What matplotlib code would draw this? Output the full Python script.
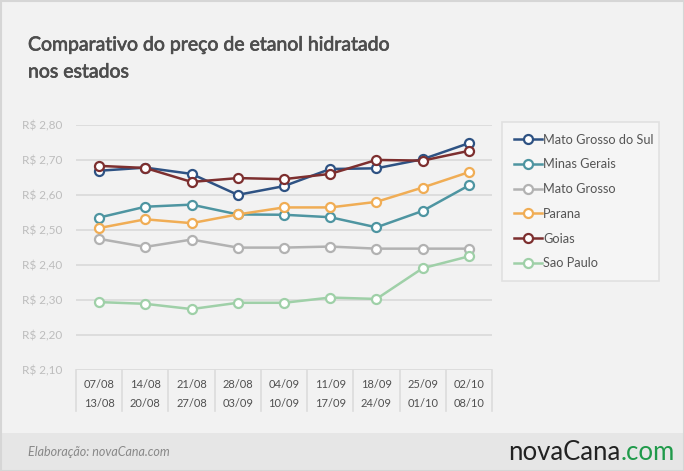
import numpy as np
import matplotlib.pyplot as plt
import matplotlib.patheffects as pe
from matplotlib.patches import Rectangle

weeks_start = ['07/08', '14/08', '21/08', '28/08', '04/09', '11/09', '18/09', '25/09', '02/10']
weeks_end = ['13/08', '20/08', '27/08', '03/09', '10/09', '17/09', '24/09', '01/10', '08/10']

mato_grosso_do_sul = [2.669, 2.678, 2.660, 2.600, 2.625, 2.674, 2.676, 2.702, 2.748]
minas_gerais = [2.535, 2.566, 2.572, 2.544, 2.543, 2.536, 2.507, 2.554, 2.627]
mato_grosso = [2.474, 2.451, 2.472, 2.449, 2.449, 2.452, 2.446, 2.446, 2.446]
parana = [2.505, 2.530, 2.519, 2.544, 2.564, 2.564, 2.580, 2.621, 2.665]
goias = [2.683, 2.677, 2.637, 2.648, 2.645, 2.660, 2.700, 2.698, 2.726]
sao_paulo = [2.293, 2.288, 2.273, 2.291, 2.291, 2.306, 2.302, 2.390, 2.424]

series = [
    ('Mato Grosso do Sul', mato_grosso_do_sul, '#2e5283'),
    ('Minas Gerais', minas_gerais, '#4e95a1'),
    ('Mato Grosso', mato_grosso, '#b2b2b2'),
    ('Parana', parana, '#f0ad55'),
    ('Goias', goias, '#7d2f2f'),
    ('Sao Paulo', sao_paulo, '#9fd0a8'),
]

yticks = [2.10, 2.20, 2.30, 2.40, 2.50, 2.60, 2.70, 2.80]

W, H = 684, 471
fig = plt.figure(figsize=(W / 100, H / 100), dpi=100)
fig.patch.set_facecolor('#f2f2f2')
plt.rcParams['font.family'] = ['Lato', 'DejaVu Sans']

# footer band and outer border
fig.patches.append(Rectangle((0, 0), 1, (H - 433) / H, transform=fig.transFigure,
                             facecolor='#e6e6e6', edgecolor='none', zorder=0))
fig.patches.append(Rectangle((0.5 / W, 0.5 / H), 1 - 1 / W, 1 - 1 / H, transform=fig.transFigure,
                             facecolor='none', edgecolor='#d6d6d6', lw=1.5, zorder=5))

x0, x1, ytop, ybot = 76, 492, 125, 369.5
ax = fig.add_axes([x0 / W, (H - ybot) / H, (x1 - x0) / W, (ybot - ytop) / H])
ax.set_facecolor('none')
x = np.arange(len(weeks_start))
ax.set_xlim(-0.5, len(x) - 0.5)
ax.set_ylim(2.10, 2.80)

for yv in yticks:
    ax.axhline(yv, color='#d9d9d9', lw=1.2, zorder=1)

for s in ax.spines.values():
    s.set_visible(False)
ax.set_yticks(yticks)
ax.set_yticklabels(['R$ ' + f'{v:.2f}'.replace('.', ',') for v in yticks],
                   color='#bdbdbd', fontsize=8.5)
ax.tick_params(axis='y', length=0, pad=10)
ax.set_xticks([])

# table-like x axis
trans = ax.get_xaxis_transform()
for b in np.arange(len(x) + 1) - 0.5:
    ax.plot([b, b], [0, -41 / (ybot - ytop)], transform=trans, color='#dcdcdc',
            lw=1.2, clip_on=False)
for i in x:
    ax.text(i, -15 / (ybot - ytop), weeks_start[i], transform=trans, ha='center',
            va='center', fontsize=8, color='#505050')
    ax.text(i, -34 / (ybot - ytop), weeks_end[i], transform=trans, ha='center',
            va='center', fontsize=8, color='#505050')

handles = []
for name, vals, col in series:
    ln, = ax.plot(x, vals, color=col, lw=1.8, marker='o', ms=6.5, mfc='white',
                  mec=col, mew=1.6, clip_on=False, zorder=3, label=name)
    handles.append(ln)

leg = ax.legend(handles=handles, loc='upper left',
                bbox_to_anchor=(502 / W, 1 - 284 / H, 157 / W, 162 / H),
                bbox_transform=fig.transFigure, mode='expand', frameon=True,
                fontsize=9.2, handlelength=2.2, handletextpad=0.1,
                labelspacing=1.0, borderpad=0.9, borderaxespad=0, fancybox=False)
leg.get_frame().set_facecolor('#f7f7f7')
leg.get_frame().set_edgecolor('#dcdcdc')
leg.get_frame().set_linewidth(1.2)
for t in leg.get_texts():
    t.set_color('#555555')

thick = [pe.withStroke(linewidth=0.5, foreground='#4d4d4d')]
fig.text(28 / W, 1 - 45 / H, 'Comparativo do preço de etanol hidratado', fontsize=14,
         color='#4d4d4d', va='center', ha='left', path_effects=thick)
fig.text(28 / W, 1 - 72 / H, 'nos estados', fontsize=14, color='#4d4d4d',
         va='center', ha='left', path_effects=thick)

fig.text(28 / W, 1 - 452 / H, 'Elaboração: novaCana.com', fontsize=9, style='italic',
         color='#888888', va='center', ha='left')
logo = fig.text(508 / W, 1 - 460 / H, 'novaCana', fontsize=18.5, color='#222222',
                va='baseline', ha='left')
fig.canvas.draw()
bb = logo.get_window_extent()
fig.text(bb.x1 / W, 1 - 460 / H, '.com', fontsize=18.5, color='#1f9a4a',
         va='baseline', ha='left')

fig.savefig('out.png', dpi=100, facecolor=fig.get_facecolor())
